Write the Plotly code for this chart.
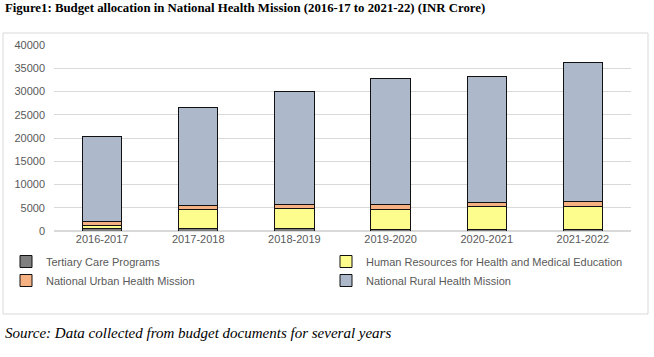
import plotly.graph_objects as go

years = ["2016-2017", "2017-2018", "2018-2019", "2019-2020", "2020-2021", "2021-2022"]
tertiary = [500, 520, 600, 300, 300, 300]
hrhme = [700, 4050, 4300, 4400, 4900, 4950]
nuhm = [950, 850, 870, 950, 950, 1000]
nrhm = [18250, 21180, 24330, 27150, 27050, 30050]
y_ticks = [0, 5000, 10000, 15000, 20000, 25000, 30000, 35000, 40000]

series = [
    ("Tertiary Care Programs", tertiary, "#7F7F7F", "legend"),
    ("Human Resources for Health and Medical Education", hrhme, "#FDFD8E", "legend2"),
    ("National Urban Health Mission", nuhm, "#F6B183", "legend"),
    ("National Rural Health Mission", nrhm, "#ADB9CB", "legend2"),
]

W, H = 654, 357
L, R, T, B = 54, 23, 45, 126
pw, ph = W - L - R, H - T - B

fig = go.Figure()
for name, vals, col, lg in series:
    fig.add_trace(go.Bar(x=years, y=vals, name=name, legend=lg,
                         marker=dict(color=col, line=dict(color="#111111", width=1))))

def px_x(p):
    return (p - L) / pw

def px_y(p):
    return (H - B - p) / ph

legend_common = dict(orientation="v", xref="container", yref="container",
                     xanchor="left", yanchor="top", itemwidth=30,
                     font=dict(size=11, color="#595959"), traceorder="normal",
                     bgcolor="rgba(0,0,0,0)")

fig.update_layout(
    width=W, height=H,
    margin=dict(l=L, r=R, t=T, b=B, autoexpand=False),
    barmode="stack", bargap=0.59,
    plot_bgcolor="white", paper_bgcolor="white",
    font=dict(family="Liberation Sans", size=11, color="#595959"),
    xaxis=dict(showgrid=False, showline=False, ticks="", tickfont=dict(size=11, color="#595959")),
    yaxis=dict(range=[0, 40000], tickvals=y_ticks, tickformat="d", showgrid=True, gridcolor="#D9D9D9",
               gridwidth=1, zeroline=True, zerolinecolor="#D9D9D9", showline=False,
               ticks="", ticklabelstandoff=8, tickfont=dict(size=11, color="#595959")),
    legend=dict(x=6 / W, y=1 - 247 / H, **legend_common),
    legend2=dict(x=326 / W, y=1 - 247 / H, **legend_common),
    showlegend=True,
)

fig.add_shape(type="rect", xref="paper", yref="paper",
              x0=px_x(3), x1=px_x(648), y0=px_y(314), y1=px_y(33),
              line=dict(color="#D9D9D9", width=1), layer="below")

fig.add_annotation(text="<b>Figure1: Budget allocation in National Health Mission (2016-17 to 2021-22) (INR Crore)</b>",
                   xref="paper", yref="paper", x=px_x(3), y=px_y(8), xanchor="left", yanchor="middle",
                   showarrow=False, font=dict(family="Liberation Serif", size=12.8, color="#000000"))
fig.add_annotation(text="<i>Source: Data collected from budget documents for several years</i>",
                   xref="paper", yref="paper", x=px_x(3), y=px_y(333), xanchor="left", yanchor="middle",
                   showarrow=False, font=dict(family="Liberation Serif", size=15, color="#000000"))

fig.write_html("out.html", config={"displayModeBar": False},
               post_script="document.body.style.margin='0';")
